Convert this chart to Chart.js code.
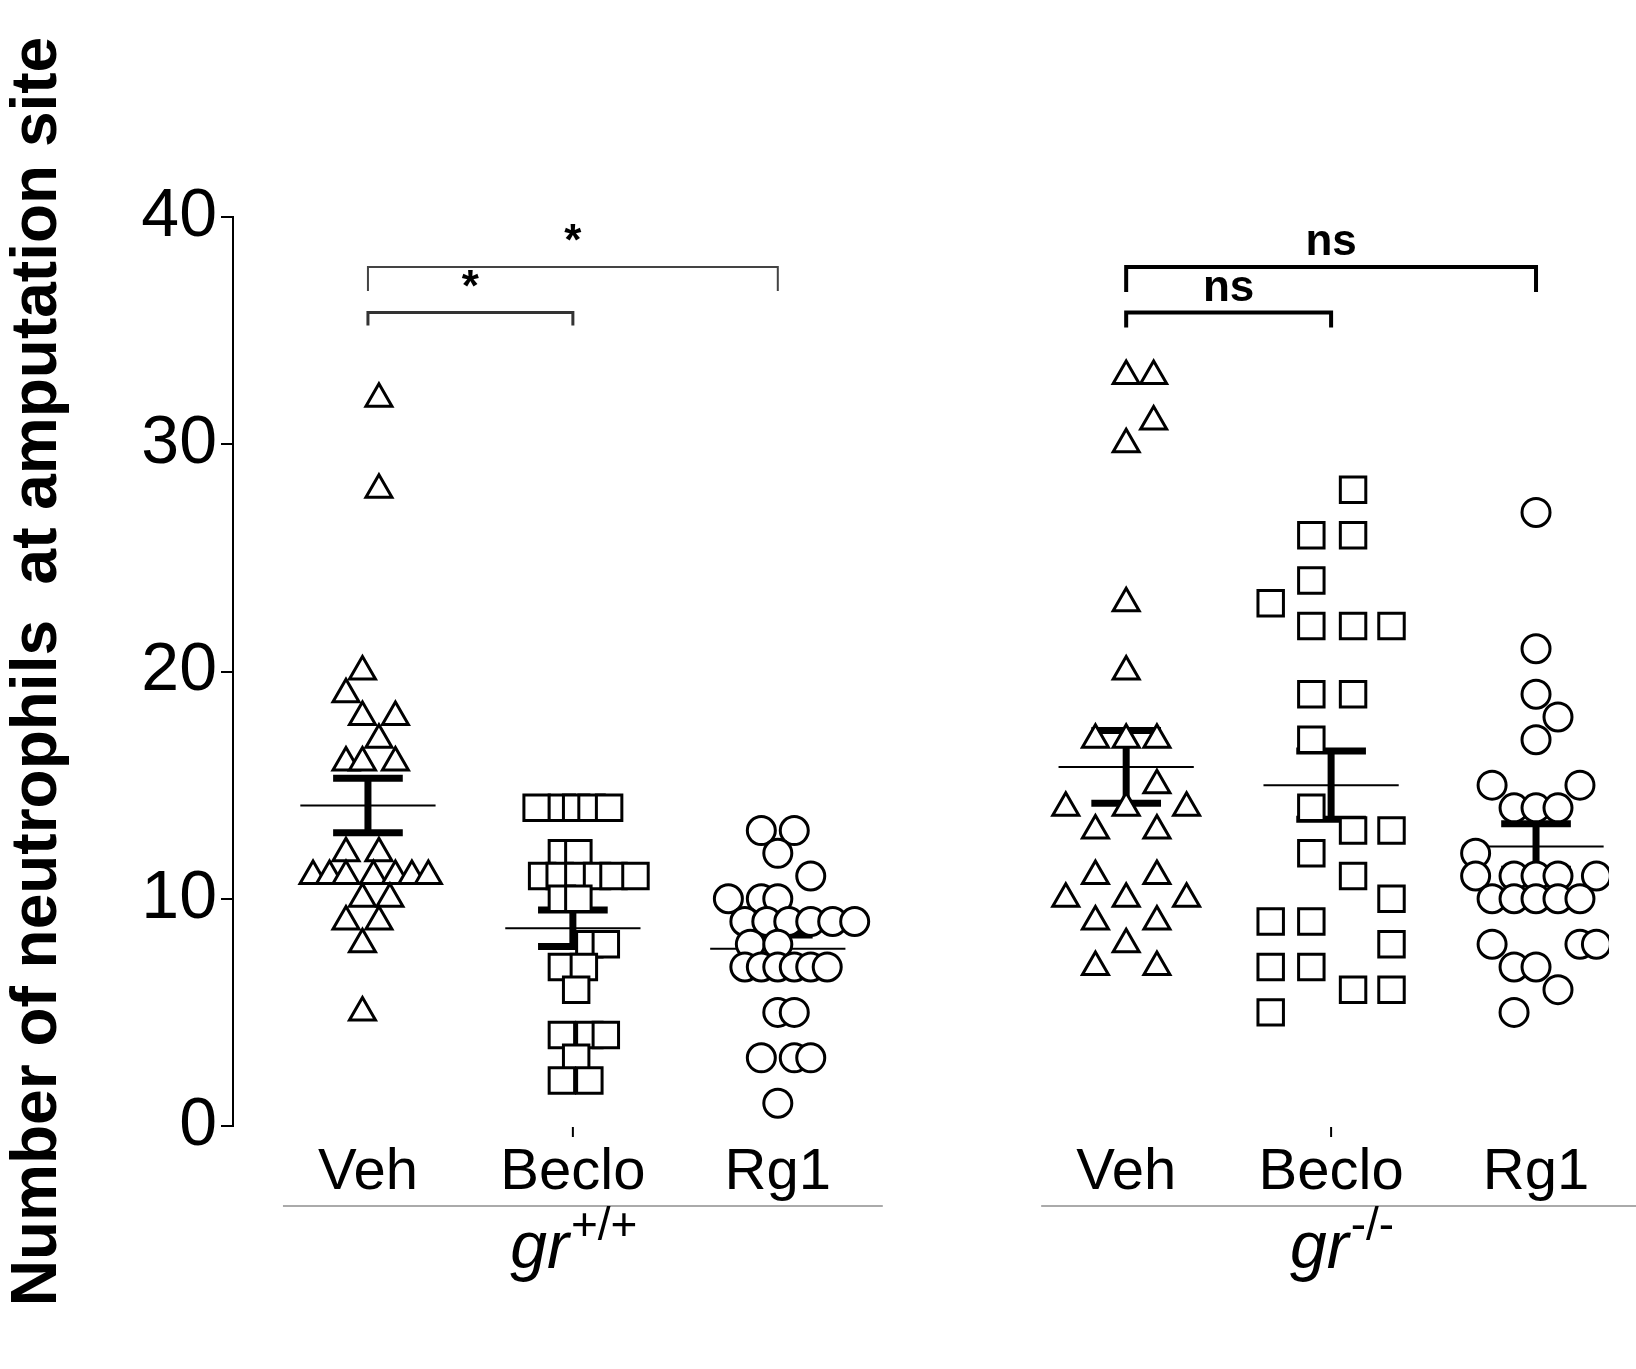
<!DOCTYPE html>
<html><head><meta charset="utf-8">
<script src="https://cdn.jsdelivr.net/npm/chart.js@4"></script>
<style>html,body{margin:0;padding:0;background:#fff}#w{width:1636px;height:1369px}</style>
</head><body><div id="w"><canvas id="c"></canvas></div>
<script>
const categories = ['Veh','Beclo','Rg1','Veh','Beclo','Rg1'];
const groupNames = ['gr','gr'];
const groupSup = ['+/+','-/-'];
const categoryX = [1,2,3,4.7,5.7,6.7];
const yTicks = [0,10,20,30,40];
// [value, horizontal jitter]
const veh1 = [[32,10],[28,10],[20,-5],[19,-20],[18,-5],[18,25],[17,10],[16,-20],[16,-5],[16,25],[12,-20],[12,10],[11,-50],[11,-35],[11,-20],[11,5],[11,25],[11,40],[11,55],[10,-5],[10,20],[9,-20],[9,10],[8,-5],[5,-5]];
const beclo1 = [[14,-33],[14,-10],[14,3],[14,17],[14,33],[12,-10],[12,5],[11,-28],[11,-12],[11,5],[11,22],[11,37],[11,57],[10,-10],[10,5],[8,15],[8,30],[7,-10],[7,10],[6,3],[4,-10],[4,15],[4,30],[3,3],[2,-10],[2,15]];
const rg1 = [[13,-15],[13,15],[12,0],[11,30],[10,-45],[10,-15],[10,0],[9,-30],[9,-10],[9,10],[9,30],[9,50],[9,70],[8,-25],[8,0],[7,-30],[7,-15],[7,0],[7,15],[7,30],[7,45],[5,0],[5,15],[3,-15],[3,15],[3,30],[1,0]];
const veh2 = [[33,0],[33,25],[31,25],[30,0],[23,0],[20,0],[17,-28],[17,0],[17,28],[15,28],[14,-55],[14,0],[14,55],[13,-28],[13,28],[11,-28],[11,28],[10,-55],[10,0],[10,55],[9,-28],[9,28],[8,0],[7,-28],[7,28]];
const beclo2 = [[28,20],[26,-18],[26,20],[24,-18],[23,-55],[22,-18],[22,20],[22,55],[19,-18],[19,20],[17,-18],[14,-18],[13,20],[13,55],[12,-18],[11,20],[10,55],[9,-55],[9,-18],[8,55],[7,-55],[7,-18],[6,20],[6,55],[5,-55]];
const rg2 = [[27,0],[21,0],[19,0],[18,20],[17,0],[15,-40],[15,40],[14,-20],[14,0],[14,20],[12,-55],[11,-55],[11,-20],[11,0],[11,20],[11,55],[10,-40],[10,-20],[10,0],[10,20],[10,40],[8,-40],[8,40],[8,55],[7,-20],[7,0],[6,20],[5,-20]];
const means = [14.1,8.7,7.8,15.8,15.0,12.3];
const semLo = [12.9,7.9,7.2,14.2,13.5,11.3];
const semHi = [15.3,9.5,8.4,17.4,16.5,13.3];
const series = [veh1,beclo1,rg1,veh2,beclo2,rg2];
const styles = ['triangle','rect','circle','triangle','rect','circle'];
const radii = {triangle:15,rect:18,circle:14};

const J = 186.6;
const datasets = [];
series.forEach((s,i)=>{
  datasets.push({type:'scatter',data:s.map(p=>({x:categoryX[i]+p[1]/J,y:p[0]})),
    pointStyle:styles[i],pointRadius:radii[styles[i]],backgroundColor:'#fff',borderColor:'#000',borderWidth:3});
});
series.forEach((s,i)=>{
  datasets.push({type:'line',data:[{x:categoryX[i]-0.33,y:means[i]},{x:categoryX[i]+0.33,y:means[i]}],borderColor:'#000',borderWidth:2,pointRadius:0});
  [semLo[i],semHi[i]].forEach(v=>datasets.push({type:'line',data:[{x:categoryX[i]-0.17,y:v},{x:categoryX[i]+0.17,y:v}],borderColor:'#000',borderWidth:7,pointRadius:0}));
  datasets.push({type:'line',data:[{x:categoryX[i],y:semLo[i]},{x:categoryX[i],y:semHi[i]}],borderColor:'#000',borderWidth:7,pointRadius:0});
});

const deco = {id:'deco',afterDraw(ch){
  const c=ch.ctx,x=ch.scales.x,y=ch.scales.y;
  c.save();
  c.fillStyle='#000';c.textAlign='center';c.textBaseline='alphabetic';
  c.font='58px Arial, "Liberation Sans"';
  categories.forEach((t,i)=>c.fillText(t,x.getPixelForValue(categoryX[i]),1189));
  c.strokeStyle='#000';c.lineWidth=2;
  [1,4].forEach(i=>{const px=x.getPixelForValue(categoryX[i]);c.beginPath();c.moveTo(px,1127);c.lineTo(px,1137);c.stroke();});
  c.strokeStyle='#aaa';c.lineWidth=2;
  [[0,2],[3,5]].forEach(([a,b])=>{c.beginPath();c.moveTo(x.getPixelForValue(categoryX[a])-85,1206);c.lineTo(x.getPixelForValue(categoryX[b])+105,1206);c.stroke();});
  [[0,2],[3,5]].forEach(([a,b],g)=>{
    const cx=(x.getPixelForValue(categoryX[a])+x.getPixelForValue(categoryX[b]))/2+(g?10:0);
    c.fillStyle='#000';
    c.font='italic 66px Arial, "Liberation Sans"';const w1=c.measureText(groupNames[g]).width;
    c.font='46px Arial, "Liberation Sans"';const w2=c.measureText(groupSup[g]).width;
    const s=cx-(w1+w2)/2;c.textAlign='left';
    c.font='italic 66px Arial, "Liberation Sans"';c.fillText(groupNames[g],s,1268);
    c.font='46px Arial, "Liberation Sans"';c.fillText(groupSup[g],s+w1+2,1240);c.textAlign='center';
  });
  c.textBaseline='middle';
  const br=(a,b,yv,h,lw,col,txt,font)=>{
    const xa=x.getPixelForValue(categoryX[a]),xb=x.getPixelForValue(categoryX[b]),yp=y.getPixelForValue(yv);
    c.strokeStyle=col;c.lineWidth=lw;c.beginPath();c.moveTo(xa,yp+h);c.lineTo(xa,yp);c.lineTo(xb,yp);c.lineTo(xb,yp+h);c.stroke();
    c.font=font;c.fillStyle='#000';c.fillText(txt,(xa+xb)/2,yp-24);
  };
  br(0,2,37.8,24,2,'#444','*','bold 44px Arial');
  br(0,1,35.8,13,3,'#333','*','bold 44px Arial');
  br(3,5,37.8,25,4,'#000','ns','bold 44px Arial');
  br(3,4,35.8,15,4,'#000','ns','bold 44px Arial');
  c.restore();
}};

new Chart(document.getElementById('c'),{
  data:{datasets},
  plugins:[deco],
  options:{responsive:true,maintainAspectRatio:false,animation:false,
    layout:{padding:{top:217,bottom:243,right:27,left:0}},
    plugins:{legend:{display:false},tooltip:{enabled:false}},
    scales:{
      x:{type:'linear',display:false,min:1-(368-233)/205,max:6.7+(1609-1536)/205},
      y:{min:0,max:40,afterBuildTicks(s){s.ticks=yTicks.map(v=>({value:v}));},
        afterFit(s){s.width=233;},
        border:{display:true,color:'#000',width:2},
        grid:{drawOnChartArea:false,tickLength:12,color:'#000',lineWidth:2},
        ticks:{color:'#000',font:{size:68,family:'Arial, "Liberation Sans"'},padding:4},
        title:{display:true,text:'Number of neutrophils  at amputation site',color:'#000',font:{size:64,weight:'bold',family:'Arial, "Liberation Sans"'},padding:{top:0,bottom:20}}
      }
    }
  }
});
</script></body></html>
